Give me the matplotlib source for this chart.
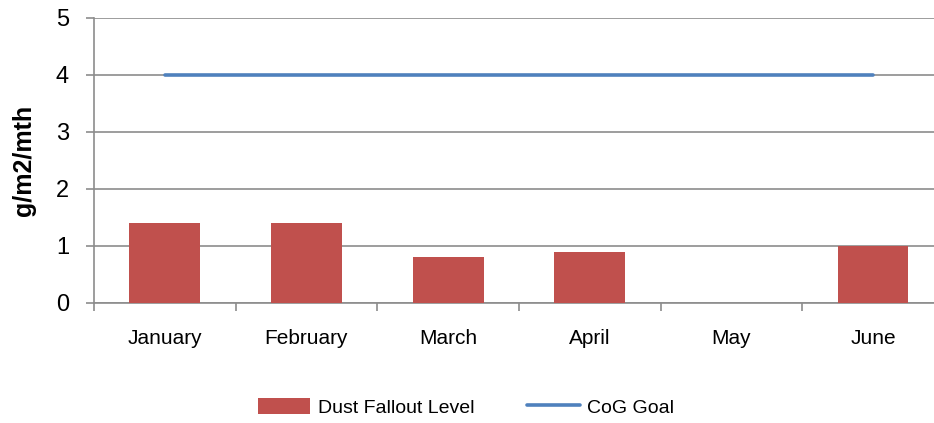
import matplotlib.pyplot as plt
import numpy as np
from matplotlib.ticker import FixedLocator

months = ["January", "February", "March", "April", "May", "June"]
dust = [1.4, 1.4, 0.8, 0.9, 0.0, 1.0]
goal = [4, 4, 4, 4, 4, 4]

plt.rcParams["font.family"] = ["Liberation Sans", "DejaVu Sans"]

fig = plt.figure(figsize=(9.34, 4.23), dpi=100)
ax = fig.add_axes([0.1006, 0.2837, 0.910, 0.6738])

x = np.arange(len(months))
bars = ax.bar(x, dust, width=0.5, color="#C0504D", label="Dust Fallout Level", zorder=3)
line, = ax.plot(x, goal, color="#4F81BD", lw=2.6, solid_capstyle="round", label="CoG Goal", zorder=4)

ax.set_xlim(-0.5, 5.5)
ax.set_ylim(0, 5)
ax.set_yticks(range(6))
ax.yaxis.grid(True, color="#8c8c8c", lw=1.2, zorder=0)

ax.set_xticks(x)
ax.set_xticklabels(months, fontsize=15)
ax.xaxis.set_minor_locator(FixedLocator(np.arange(-0.5, 6, 1)))
ax.tick_params(axis="x", which="major", length=0, pad=19)
ax.tick_params(axis="x", which="minor", length=6, width=1.2, color="#8c8c8c")
ax.tick_params(axis="y", length=6, width=1.2, color="#8c8c8c", labelsize=17, pad=12)

for s in ["top", "right"]:
    ax.spines[s].set_visible(False)
for s in ["left", "bottom"]:
    ax.spines[s].set_color("#8c8c8c")
    ax.spines[s].set_linewidth(1.2)

ax.set_ylabel("g/m2/mth", fontsize=18, fontweight="bold", labelpad=14)

fig.legend([bars, line], ["Dust Fallout Level", "CoG Goal"], loc="center",
           bbox_to_anchor=(0.499, 0.037), ncol=2, frameon=False,
           fontsize=14, handlelength=2.7, handleheight=0.9, columnspacing=2.7, handletextpad=0.4)

plt.savefig("out.png", dpi=100)
